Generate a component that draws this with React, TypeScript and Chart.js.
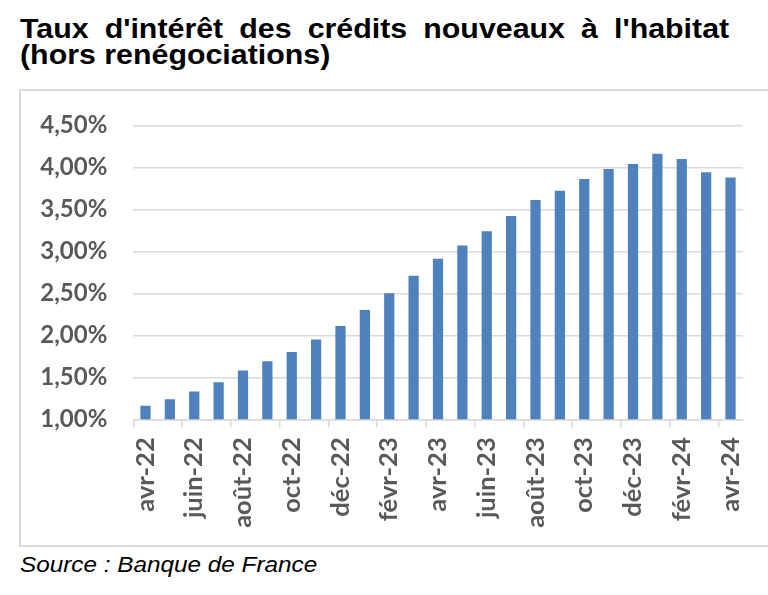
import React, { useEffect, useRef } from "react";
import { Chart, registerables } from "chart.js";

Chart.register(...registerables);

const months: string[] = [
  "avr-22", "mai-22", "juin-22", "juil-22", "août-22", "sept-22", "oct-22", "nov-22", "déc-22",
  "janv-23", "févr-23", "mars-23", "avr-23", "mai-23", "juin-23", "juil-23", "août-23", "sept-23",
  "oct-23", "nov-23", "déc-23", "janv-24", "févr-24", "mars-24", "avr-24",
];

const rates: number[] = [
  1.16, 1.24, 1.33, 1.44, 1.58, 1.69, 1.80, 1.95, 2.11, 2.30, 2.50, 2.71, 2.91,
  3.07, 3.24, 3.42, 3.61, 3.72, 3.86, 3.98, 4.04, 4.16, 4.10, 3.94, 3.88,
];

const yMin = 1;
const yMax = 4.5;
const yStep = 0.5;

const titleLine1 = "Taux d'intérêt des crédits nouveaux à l'habitat";
const titleLine2 = "(hors renégociations)";
const sourceText = "Source : Banque de France";

const CANVAS_W = 768;
const CANVAS_H = 450;
const CANVAS_TOP = 95;

export default function App() {
  const ref = useRef<HTMLCanvasElement | null>(null);

  useEffect(() => {
    if (!ref.current) return;
    const yFont = { family: "Lato", size: 24, weight: "bold" as const };
    const xFont = { family: "Lato", size: 25.5, weight: "bold" as const };
    const chart = new Chart(ref.current, {
      type: "bar",
      data: {
        labels: months,
        datasets: [
          {
            data: rates,
            backgroundColor: "#4f81bd",
            borderWidth: 0,
            barPercentage: 0.42,
            categoryPercentage: 1,
          },
        ],
      },
      options: {
        responsive: false,
        animation: false,
        layout: { padding: { top: 125.3 - CANVAS_TOP, right: 25.3, left: 0, bottom: 0 } },
        plugins: { legend: { display: false }, tooltip: { enabled: false }, title: { display: false } },
        scales: {
          x: {
            offset: true,
            grid: {
              display: true,
              drawOnChartArea: false,
              drawTicks: true,
              tickLength: 8,
              offset: true,
              lineWidth: 1.5,
              color: "#d9d9d9",
              tickColor: (ctx: any) => (ctx.index % 2 === 0 && ctx.index < months.length ? "#d9d9d9" : "rgba(0,0,0,0)"),
            },
            border: { display: true, color: "#d9d9d9", width: 1.5 },
            ticks: {
              autoSkip: false,
              minRotation: 90,
              maxRotation: 90,
              padding: 10,
              color: "#595959",
              font: xFont,
              callback: (_v: any, i: number) => (i % 2 === 0 ? months[i] : ""),
            },
            afterFit: (s: any) => {
              s.height = CANVAS_H - (419.3 - CANVAS_TOP);
              s.paddingLeft = 0;
              s.paddingRight = 0;
              s.paddingTop = 0;
              s.paddingBottom = 0;
            },
          },
          y: {
            min: yMin,
            max: yMax,
            grid: { color: "#d9d9d9", lineWidth: 1.5, drawTicks: false },
            border: { display: false },
            ticks: {
              stepSize: yStep,
              padding: 26,
              color: "#595959",
              font: yFont,
              callback: (v: any) => Number(v).toFixed(2).replace(".", ",") + "%",
            },
            afterFit: (s: any) => {
              s.width = 133.3;
              s.paddingTop = 0;
              s.paddingBottom = 0;
              s.paddingLeft = 0;
              s.paddingRight = 0;
            },
          },
        },
      },
    });
    return () => chart.destroy();
  }, []);

  return (
    <div style={{ position: "absolute", left: 0, top: 0, width: 768, height: 595, background: "#fff", overflow: "hidden" }}>
      <div
        style={{
          position: "absolute",
          left: 20,
          top: 15.7,
          width: 631,
          transform: "scaleX(1.124)",
          transformOrigin: "left top",
          fontFamily: "'Liberation Sans', Arial, sans-serif",
          fontWeight: "bold",
          fontSize: 27,
          lineHeight: "26px",
          color: "#000",
        }}
      >
        <div style={{ display: "flex", justifyContent: "space-between", whiteSpace: "nowrap" as const }}>
          {titleLine1.split(" ").map((w, i) => (
            <span key={i}>{w}</span>
          ))}
        </div>
        <div style={{ whiteSpace: "nowrap" as const }}>{titleLine2}</div>
      </div>
      <div
        style={{
          position: "absolute",
          left: 19,
          top: 89,
          width: 780,
          height: 454,
          border: "2px solid #d9d9d9",
          boxSizing: "content-box",
        }}
      />
      <canvas
        ref={ref}
        width={CANVAS_W}
        height={CANVAS_H}
        style={{ position: "absolute", left: 0, top: CANVAS_TOP, width: CANVAS_W, height: CANVAS_H }}
      />
      <div
        style={{
          position: "absolute",
          left: 20,
          top: 552,
          transform: "scaleX(1.09)",
          transformOrigin: "left top",
          whiteSpace: "nowrap" as const,
          fontFamily: "'Liberation Sans', Arial, sans-serif",
          fontStyle: "italic",
          fontSize: 22.3,
          color: "#000",
        }}
      >
        {sourceText}
      </div>
    </div>
  );
}
